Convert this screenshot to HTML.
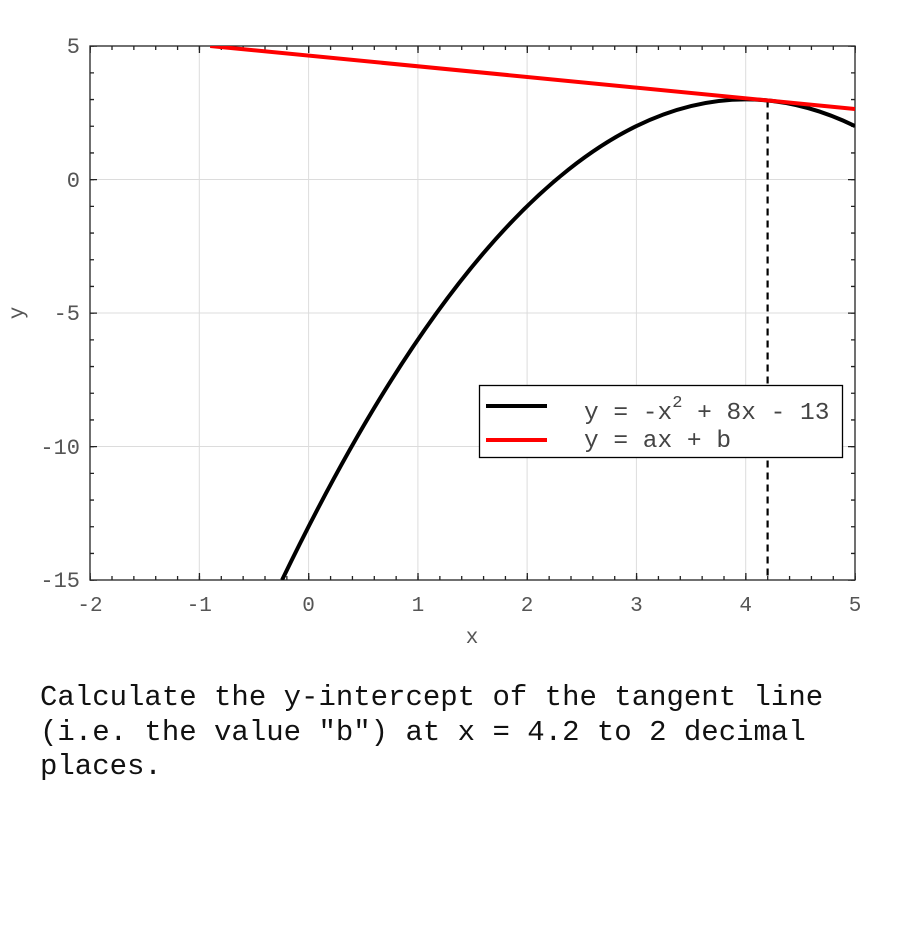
<!DOCTYPE html>
<html><head><meta charset="utf-8"><style>
body{margin:0;background:#fff;width:900px;height:930px;overflow:hidden}
.q{position:absolute;left:40px;top:681px;font:29px/34.5px "Liberation Mono",monospace;color:#111;white-space:pre}
</style></head><body>
<svg width="900" height="930" style="position:absolute;left:0;top:0" font-family="Liberation Mono, monospace">
<g stroke="#dcdcdc" stroke-width="1">
<line x1="199.3" y1="46" x2="199.3" y2="580"/><line x1="308.6" y1="46" x2="308.6" y2="580"/><line x1="417.9" y1="46" x2="417.9" y2="580"/><line x1="527.1" y1="46" x2="527.1" y2="580"/><line x1="636.4" y1="46" x2="636.4" y2="580"/><line x1="745.7" y1="46" x2="745.7" y2="580"/>
<line x1="90" y1="179.5" x2="855" y2="179.5"/><line x1="90" y1="313" x2="855" y2="313"/><line x1="90" y1="446.5" x2="855" y2="446.5"/>
</g>
<g stroke="#222" stroke-width="1.3" fill="none">
<line x1="89.5" y1="578" x2="856" y2="578" stroke-width="4" stroke-dasharray="1.3 20.557"/>
<line x1="89.5" y1="576.5" x2="856" y2="576.5" stroke-width="7" stroke-dasharray="1.3 107.986"/>
<line x1="89.5" y1="48" x2="856" y2="48" stroke-width="4" stroke-dasharray="1.3 20.557"/>
<line x1="89.5" y1="49.5" x2="856" y2="49.5" stroke-width="7" stroke-dasharray="1.3 107.986"/>
<line x1="92" y1="45.5" x2="92" y2="581" stroke-width="4" stroke-dasharray="1.3 25.4"/>
<line x1="93.5" y1="45.5" x2="93.5" y2="581" stroke-width="7" stroke-dasharray="1.3 132.2"/>
<line x1="853" y1="45.5" x2="853" y2="581" stroke-width="4" stroke-dasharray="1.3 25.4"/>
<line x1="851.5" y1="45.5" x2="851.5" y2="581" stroke-width="7" stroke-dasharray="1.3 132.2"/>
<rect x="90" y="46" width="765" height="534"/>
</g>
<line x1="767.6" y1="100.5" x2="767.6" y2="580" stroke="#000" stroke-width="2.2" stroke-dasharray="7 5"/>
<svg x="90" y="46" width="765" height="534" overflow="hidden"><g transform="translate(-90,-46)">
<path d="M282.06 580 Q568.5 -14 855 126.1" fill="none" stroke="#000" stroke-width="4"/>
<line x1="210.2" y1="46" x2="855" y2="109" stroke="#f00" stroke-width="4"/>
</g></svg>
<rect x="479.5" y="385.5" width="363" height="72" fill="#fff" stroke="#000" stroke-width="1.3"/>
<line x1="486" y1="406" x2="547" y2="406" stroke="#000" stroke-width="4"/>
<line x1="486" y1="440" x2="547" y2="440" stroke="#f00" stroke-width="4"/>
<text x="584" y="419" font-size="24.5" fill="#444">y = -x<tspan dy="-12" font-size="17">2</tspan><tspan dy="12"> + 8x - 13</tspan></text>
<text x="584" y="447" font-size="24.5" fill="#444">y = ax + b</text>
<g font-size="22" fill="#555" text-anchor="end">
<text x="80" y="53">5</text><text x="80" y="187">0</text><text x="80" y="320">-5</text><text x="80" y="454">-10</text><text x="80" y="587">-15</text>
</g>
<g font-size="21" fill="#555" text-anchor="middle">
<text x="90" y="611">-2</text><text x="199.3" y="611">-1</text><text x="308.6" y="611">0</text><text x="417.9" y="611">1</text><text x="527.1" y="611">2</text><text x="636.4" y="611">3</text><text x="745.7" y="611">4</text><text x="855" y="611">5</text>
<text x="472" y="643">x</text>
<text transform="translate(23,313) rotate(-90)">y</text>
</g>
</svg>
<div class="q">Calculate the y-intercept of the tangent line
(i.e. the value "b") at x = 4.2 to 2 decimal
places.</div>
</body></html>
